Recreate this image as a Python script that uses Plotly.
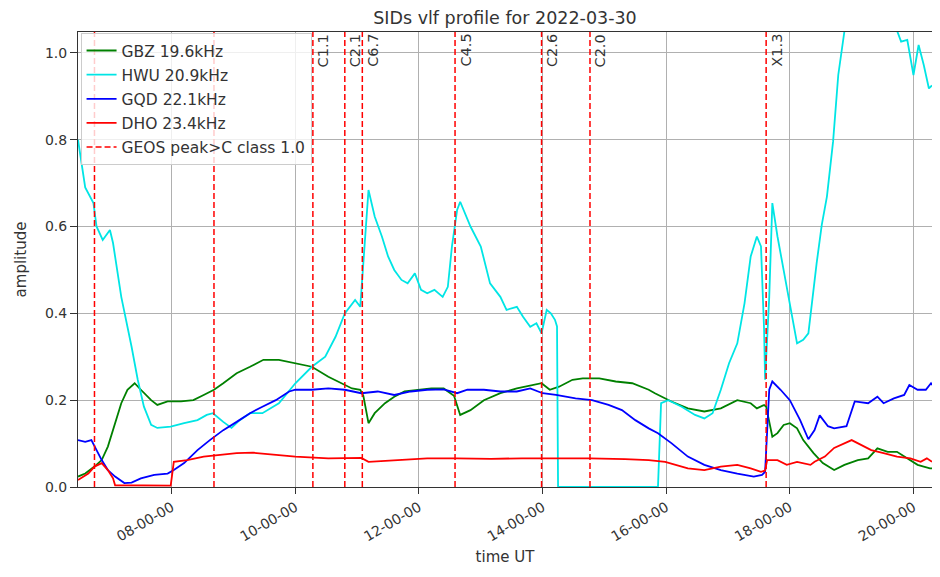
import plotly.graph_objects as go

DAY = "2022-03-30 "

# GBZ 19.6kHz
gbz_time = ["06:29", "06:36", "06:45", "06:52", "06:58", "07:05", "07:11", "07:17", "07:24", "07:30",
            "07:40", "07:46", "07:56", "08:09", "08:21", "08:31", "08:41", "08:50", "09:03", "09:16",
            "09:29", "09:44", "10:00", "10:16", "10:32", "10:45", "10:55", "11:03", "11:06", "11:11",
            "11:17", "11:27", "11:36", "11:46", "11:59", "12:12", "12:24", "12:34", "12:40", "12:50",
            "13:03", "13:19", "13:35", "13:51", "13:59", "14:07", "14:16", "14:29", "14:39", "14:55",
            "15:11", "15:27", "15:43", "15:49", "16:05", "16:21", "16:37", "16:53", "17:09", "17:22",
            "17:28", "17:35", "17:37", "17:43", "17:48", "17:54", "18:00", "18:07", "18:13", "18:23",
            "18:32", "18:43", "18:53", "19:06", "19:16", "19:25", "19:35", "19:44", "19:54", "20:04",
            "20:16", "20:18"]
gbz_amp = [0.024, 0.031, 0.047, 0.062, 0.093, 0.147, 0.193, 0.224, 0.239, 0.224,
           0.200, 0.189, 0.197, 0.197, 0.200, 0.212, 0.224, 0.239, 0.262, 0.277,
           0.293, 0.293, 0.285, 0.277, 0.254, 0.239, 0.227, 0.224, 0.210, 0.147,
           0.170, 0.193, 0.208, 0.220, 0.224, 0.227, 0.227, 0.210, 0.166, 0.177,
           0.200, 0.216, 0.227, 0.235, 0.239, 0.224, 0.231, 0.247, 0.250, 0.250,
           0.243, 0.239, 0.224, 0.216, 0.197, 0.181, 0.174, 0.181, 0.200, 0.193,
           0.181, 0.189, 0.185, 0.116, 0.124, 0.143, 0.147, 0.135, 0.108, 0.078,
           0.055, 0.039, 0.051, 0.062, 0.066, 0.089, 0.081, 0.081, 0.066, 0.051,
           0.043, 0.043]

# HWU 20.9kHz
hwu_time = ["06:29", "06:36", "06:44", "06:47", "06:53", "07:00", "07:03", "07:11", "07:21", "07:27",
            "07:33", "07:40", "07:46", "07:59", "08:12", "08:25", "08:34", "08:40", "08:50", "08:58",
            "09:06", "09:16", "09:28", "09:44", "10:00", "10:16", "10:29", "10:39", "10:48", "10:58",
            "11:03", "11:11", "11:17", "11:24", "11:30", "11:36", "11:43", "11:49", "11:56", "12:02",
            "12:08", "12:15", "12:23", "12:28", "12:32", "12:37", "12:40", "12:50", "13:00", "13:09",
            "13:19", "13:25", "13:35", "13:41", "13:48", "13:54", "13:59", "14:04", "14:08", "14:12",
            "14:14", "14:15", "15:52", "15:55", "16:02", "16:15", "16:28", "16:37", "16:45", "16:53",
            "17:01", "17:09", "17:16", "17:22", "17:28", "17:32", "17:35", "17:36", "17:40", "17:43",
            "17:48", "17:54", "18:00", "18:07", "18:13", "18:18", "18:26", "18:31", "18:36", "18:42",
            "18:47", "18:53", "19:00", "19:15", "19:30", "19:44", "19:48", "19:54", "20:00", "20:05",
            "20:10", "20:15", "20:18"]
hwu_amp = [0.800, 0.690, 0.654, 0.600, 0.569, 0.592, 0.562, 0.438, 0.323, 0.247,
           0.185, 0.143, 0.136, 0.139, 0.147, 0.154, 0.166, 0.170, 0.150, 0.136,
           0.154, 0.170, 0.170, 0.193, 0.239, 0.277, 0.300, 0.346, 0.400, 0.431,
           0.415, 0.684, 0.623, 0.577, 0.531, 0.500, 0.477, 0.469, 0.492, 0.454,
           0.446, 0.454, 0.438, 0.461, 0.554, 0.638, 0.657, 0.600, 0.554, 0.469,
           0.438, 0.408, 0.415, 0.392, 0.369, 0.377, 0.354, 0.408, 0.400, 0.385,
           0.370, 0.000, 0.000, 0.193, 0.200, 0.185, 0.166, 0.158, 0.170, 0.224,
           0.285, 0.331, 0.423, 0.531, 0.577, 0.554, 0.362, 0.247, 0.438, 0.654,
           0.577, 0.500, 0.423, 0.331, 0.339, 0.354, 0.515, 0.604, 0.669, 0.796,
           0.949, 1.050, 1.120, 1.180, 1.140, 1.050, 1.026, 1.030, 0.949, 1.018,
           0.972, 0.918, 0.925]

# GQD 22.1kHz
gqd_time = ["06:29", "06:36", "06:42", "06:47", "06:52", "06:58", "07:05", "07:14", "07:21", "07:30",
            "07:43", "07:56", "08:02", "08:12", "08:25", "08:37", "08:50", "09:03", "09:16", "09:28",
            "09:41", "09:54", "10:00", "10:16", "10:32", "10:48", "11:04", "11:20", "11:36", "11:52",
            "12:08", "12:24", "12:37", "12:47", "13:03", "13:19", "13:35", "13:48", "14:00", "14:13",
            "14:32", "14:48", "15:04", "15:17", "15:30", "15:43", "15:52", "16:05", "16:21", "16:37",
            "16:53", "17:09", "17:25", "17:33", "17:36", "17:40", "17:43", "17:51", "18:00", "18:10",
            "18:18", "18:24", "18:29", "18:37", "18:43", "18:55", "19:03", "19:16", "19:25", "19:31",
            "19:41", "19:51", "19:56", "20:04", "20:12", "20:17", "20:18"]
gqd_amp = [0.108, 0.104, 0.108, 0.085, 0.062, 0.039, 0.024, 0.009, 0.010, 0.020,
           0.028, 0.031, 0.039, 0.055, 0.085, 0.108, 0.131, 0.150, 0.170, 0.185,
           0.200, 0.220, 0.224, 0.224, 0.227, 0.224, 0.216, 0.220, 0.212, 0.220,
           0.224, 0.225, 0.216, 0.224, 0.224, 0.220, 0.220, 0.227, 0.216, 0.212,
           0.204, 0.200, 0.189, 0.177, 0.154, 0.135, 0.124, 0.101, 0.070, 0.051,
           0.039, 0.031, 0.024, 0.028, 0.035, 0.224, 0.243, 0.224, 0.200, 0.154,
           0.110, 0.131, 0.165, 0.140, 0.135, 0.140, 0.197, 0.193, 0.208, 0.193,
           0.204, 0.212, 0.235, 0.224, 0.224, 0.239, 0.235]

# DHO 23.4kHz
dho_time = ["06:29", "06:39", "06:45", "06:52", "06:58", "07:03", "07:05", "07:30", "07:59", "08:02",
            "08:15", "08:31", "08:47", "09:03", "09:19", "09:35", "10:00", "10:32", "11:04", "11:11",
            "11:36", "12:08", "12:37", "13:10", "13:40", "14:10", "14:46", "15:20", "15:43", "15:59",
            "16:21", "16:37", "16:53", "17:09", "17:22", "17:32", "17:36", "17:38", "17:48", "17:57",
            "18:07", "18:20", "18:24", "18:34", "18:43", "19:00", "19:09", "19:19", "19:31", "19:44",
            "19:57", "20:07", "20:13", "20:18"]
dho_amp = [0.016, 0.031, 0.047, 0.055, 0.039, 0.020, 0.004, 0.003, 0.003, 0.058,
           0.062, 0.070, 0.074, 0.078, 0.079, 0.076, 0.070, 0.066, 0.067, 0.058,
           0.062, 0.066, 0.066, 0.065, 0.066, 0.066, 0.066, 0.064, 0.062, 0.058,
           0.043, 0.039, 0.047, 0.051, 0.043, 0.035, 0.038, 0.062, 0.062, 0.051,
           0.058, 0.051, 0.058, 0.070, 0.090, 0.108, 0.097, 0.085, 0.078, 0.070,
           0.066, 0.058, 0.066, 0.058]

# GOES flares above C1.0
flare_time = ["06:45", "08:41", "10:17", "10:48", "11:05", "12:35", "13:59", "14:46", "17:37"]
flare_class = ["", "", "C1.1", "C2.1", "C6.7", "C4.5", "C2.6", "C2.0", "X1.3"]

stations = [
    ("GBZ 19.6kHz", gbz_time, gbz_amp, "#008000"),
    ("HWU 20.9kHz", hwu_time, hwu_amp, "#00e5e5"),
    ("GQD 22.1kHz", gqd_time, gqd_amp, "#0000ff"),
    ("DHO 23.4kHz", dho_time, dho_amp, "#ff0000"),
]

FONT = "DejaVu Sans"
TXT = "#333333"

fig = go.Figure()

for i, (name, times, amps, color) in enumerate(stations):
    fig.add_trace(go.Scatter(
        x=[DAY + t for t in times],
        y=amps,
        mode="lines",
        name=name,
        legendgroup=str(i),
        line=dict(color=color, width=1.8),
    ))

# flare markers: vertical dashed lines + class labels
for i, (t, cls) in enumerate(zip(flare_time, flare_class)):
    fig.add_shape(
        type="line", xref="x", yref="y domain",
        x0=DAY + t, x1=DAY + t, y0=0, y1=1,
        line=dict(color="#ff0000", width=1.5, dash="6px,3px"),
        layer="above",
        showlegend=(i == 0),
        name="GEOS peak>C class 1.0",
        legendgroup="flares",
    )
    if cls:
        fig.add_annotation(
            x=DAY + t, y=1, xref="x", yref="y domain",
            text=cls, textangle=-90, showarrow=False,
            xanchor="left", yanchor="top", xshift=0,
            font=dict(family=FONT, size=14.5, color=TXT),
        )

# the page body has an 8px margin, so the figure is drawn 8px right and down
fig.update_layout(
    width=940, height=577,
    margin=dict(l=60, r=16, t=24, b=98),
    paper_bgcolor="white",
    plot_bgcolor="white",
    font=dict(family=FONT, size=14, color=TXT),
    title=dict(text="SIDs vlf profile for 2022-03-30", x=0.5, xref="paper",
               y=0.993, yref="container", yanchor="top", pad=dict(t=0, b=0),
               font=dict(family=FONT, size=17.5, color=TXT)),
    legend=dict(
        x=0.003, y=0.998, xanchor="left", yanchor="top",
        bgcolor="rgba(255,255,255,0.8)", bordercolor="#cccccc", borderwidth=1,
        font=dict(family=FONT, size=15.5, color=TXT),
        tracegroupgap=1,
    ),
    showlegend=True,
)

fig.update_xaxes(
    type="date",
    range=[DAY + "06:29", DAY + "20:18"],
    tick0=DAY + "00:00", dtick=2 * 3600 * 1000,
    tickformat="%H-%M-%S", tickangle=-30,
    ticks="outside", ticklen=6, tickcolor=TXT,
    showgrid=True, gridcolor="#b0b0b0", gridwidth=0.8,
    showline=True, linecolor=TXT, linewidth=1, mirror=True,
    zeroline=False,
    title=dict(text="time UT", font=dict(family=FONT, size=15, color=TXT), standoff=8),
    tickfont=dict(family=FONT, size=14, color=TXT),
)

fig.update_yaxes(
    range=[0, 1.048],
    tick0=0, dtick=0.2, tickformat=".1f",
    ticks="outside", ticklen=7, tickcolor=TXT,
    showgrid=True, gridcolor="#b0b0b0", gridwidth=0.8,
    showline=True, linecolor=TXT, linewidth=1, mirror=True,
    zeroline=False,
    title=dict(text="amplitude", font=dict(family=FONT, size=15, color=TXT), standoff=14),
    tickfont=dict(family=FONT, size=14, color=TXT),
)

fig.write_html("out.html")
